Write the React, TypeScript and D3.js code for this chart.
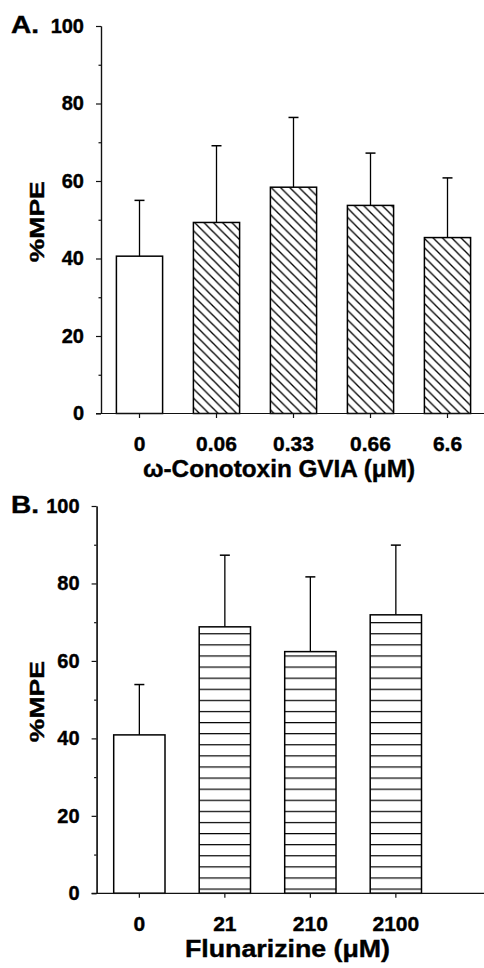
import { useEffect, useRef } from "react";
import * as d3 from "d3";

const WIDTH = 484;
const HEIGHT = 968;
const FONT = "'Liberation Sans', Arial, Helvetica, sans-serif";

// panel A: omega-conotoxin GVIA
const conoDoses = ["0", "0.06", "0.33", "0.66", "6.6"];
const conoMeans = [40.6, 49.3, 58.4, 53.7, 45.4];
const conoSem = [14.4, 19.8, 18.0, 13.5, 15.4];

// panel B: flunarizine
const flunDoses = ["0", "21", "210", "2100"];
const flunMeans = [40.9, 68.8, 62.4, 71.9];
const flunSem = [13.0, 18.5, 19.3, 18.0];

const yMajor = [0, 20, 40, 60, 80, 100];
const yMinor = [10, 30, 50, 70, 90];

type PanelProps = {
    letter: string;
    doses: string[];
    means: number[];
    sem: number[];
    pattern: string;
    top: number;
    bottom: number;
    left: number;
    bandEnd: number;
    title: string;
    titleX: number;
    titleLen: number;
};

const Panel = ({ letter, doses, means, sem, pattern, top, bottom, left, bandEnd, title, titleX, titleLen }: PanelProps) => {
    const yAxisRef = useRef(null);
    const xAxisRef = useRef(null);

    const yScale = d3.scaleLinear().domain([0, 100]).range([bottom, top]);
    const xScale = d3
        .scaleBand()
        .domain(doses)
        .range([left, bandEnd])
        .paddingInner(0.4)
        .paddingOuter(0.2);

    useEffect(() => {
        const gy = d3.select(yAxisRef.current);
        gy.selectAll("*").remove();
        gy.append("g")
            .call(d3.axisLeft(yScale).tickValues(yMinor).tickSize(2.5).tickSizeOuter(0).tickFormat(() => ""));
        gy.append("g")
            .call(d3.axisLeft(yScale).tickValues(yMajor).tickSize(5).tickSizeOuter(0).tickPadding(12).tickFormat(d3.format("d")));
        gy.selectAll("path,line").attr("stroke", "#111").attr("stroke-width", 1.2);
        gy.selectAll("text")
            .attr("font-size", 20)
            .attr("font-weight", "bold")
            .attr("font-family", FONT)
            .attr("fill", "#000")
            .attr("stroke", "#000")
            .attr("stroke-width", 0.4);

        const gx = d3.select(xAxisRef.current);
        gx.selectAll("*").remove();
        gx.append("g").call(d3.axisBottom(xScale).tickSize(4.5).tickSizeOuter(0).tickPadding(18));
        gx.selectAll(".domain").remove();
        gx.append("line")
            .attr("x1", left - 5)
            .attr("x2", WIDTH)
            .attr("y1", 0)
            .attr("y2", 0);
        gx.selectAll("path,line").attr("stroke", "#111").attr("stroke-width", 1.2);
        gx.selectAll("text")
            .attr("font-size", 21)
            .attr("font-weight", "bold")
            .attr("font-family", FONT)
            .attr("fill", "#000")
            .attr("stroke", "#000")
            .attr("stroke-width", 0.4);
    }, [doses]);

    const bars = doses.map((d, i) => {
        const x = xScale(d) ?? 0;
        const cx = x + xScale.bandwidth() / 2;
        const yTop = yScale(means[i]);
        const yErr = yScale(means[i] + sem[i]);
        return (
            <g key={d}>
                <line x1={cx} x2={cx} y1={yTop} y2={yErr} stroke="#000" strokeWidth={1.3} />
                <line x1={cx - 5} x2={cx + 5} y1={yErr} y2={yErr} stroke="#000" strokeWidth={1.5} />
                <rect
                    x={x}
                    y={yTop}
                    width={xScale.bandwidth()}
                    height={bottom - yTop}
                    fill={i === 0 ? "#fff" : `url(#${pattern})`}
                    stroke="#000"
                    strokeWidth={1.5}
                />
            </g>
        );
    });

    const mid = (top + bottom) / 2;

    return (
        <g fontFamily={FONT} fontWeight="bold" stroke="#000" strokeWidth={0.4}>
            <text x={11} y={top + 7} fontSize={24} textLength={28} lengthAdjust="spacingAndGlyphs">
                {letter}
            </text>
            <text
                transform={`translate(43.5,${mid + 2}) rotate(-90)`}
                textAnchor="middle"
                fontSize={21}
                textLength={81}
                lengthAdjust="spacingAndGlyphs"
            >
                %MPE
            </text>
            {bars}
            <g ref={yAxisRef} transform={`translate(${left},0)`} />
            <g ref={xAxisRef} transform={`translate(0,${bottom})`} />
            <text
                x={titleX}
                y={bottom + 63.5}
                textAnchor="middle"
                fontSize={24}
                textLength={titleLen}
                lengthAdjust="spacingAndGlyphs"
            >
                {title}
            </text>
        </g>
    );
};

const App = () => {
    return (
        <div style={{ position: "absolute", left: 0, top: 0 }}>
            <svg width={WIDTH} height={HEIGHT} style={{ display: "block", background: "white" }}>
                <defs>
                    <pattern id="diag" patternUnits="userSpaceOnUse" width={9.3} height={9.3}>
                        <path
                            d="M-2,-2 L11.3,11.3 M-2,7.3 L2,11.3 M7.3,-2 L11.3,2"
                            stroke="#000"
                            strokeWidth={1.3}
                        />
                    </pattern>
                    <pattern id="horiz" patternUnits="userSpaceOnUse" y={888.5} width={20} height={11.1}>
                        <line x1={0} x2={20} y1={0.5} y2={0.5} stroke="#000" strokeWidth={1.4} />
                    </pattern>
                </defs>
                <Panel
                    letter="A."
                    doses={conoDoses}
                    means={conoMeans}
                    sem={conoSem}
                    pattern="diag"
                    top={26}
                    bottom={413.5}
                    left={101}
                    bandEnd={486}
                    title="ω-Conotoxin GVIA (μM)"
                    titleX={279}
                    titleLen={272}
                />
                <Panel
                    letter="B."
                    doses={flunDoses}
                    means={flunMeans}
                    sem={flunSem}
                    pattern="horiz"
                    top={506}
                    bottom={893.3}
                    left={96.6}
                    bandEnd={438.6}
                    title="Flunarizine (μM)"
                    titleX={287.5}
                    titleLen={205}
                />
            </svg>
        </div>
    );
};

export default App;
